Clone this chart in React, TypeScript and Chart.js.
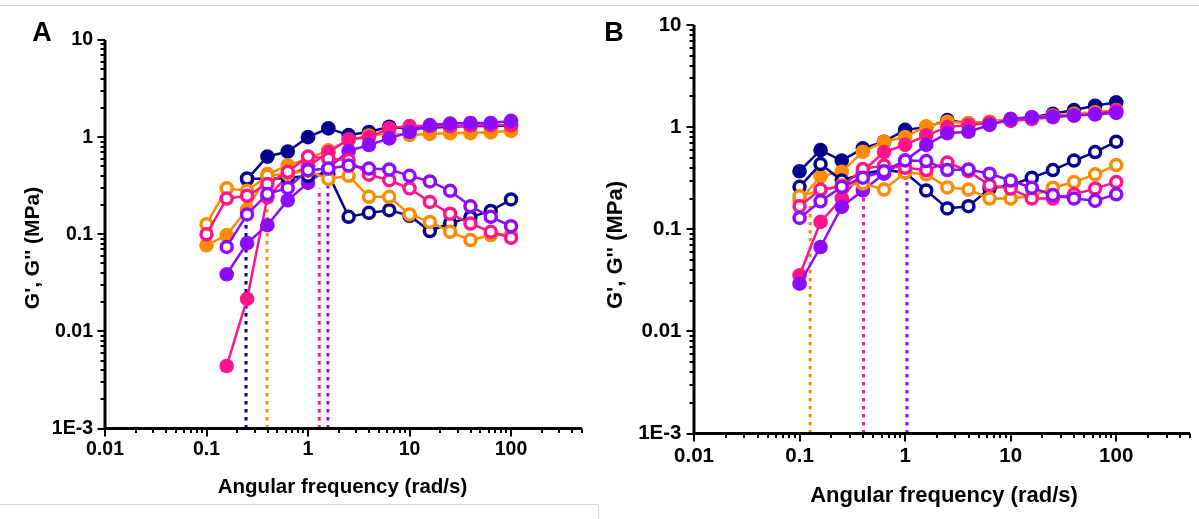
import React, { useEffect, useRef } from 'react';
import { Chart, registerables } from 'chart.js';

Chart.register(...registerables);

// ---------------- data ----------------
const FREQ = [0.1, 0.158, 0.251, 0.398, 0.631, 1, 1.585, 2.512, 3.981, 6.31, 10, 15.85, 25.12, 39.81, 63.1, 100];

// Panel A  (G' = storage, filled; G'' = loss, open)
const A_NAVY_G1 = [null, null, 0.37, 0.63, 0.71, 1.0, 1.23, 1.05, 1.13, 1.28, 1.22, 1.25, 1.28, 1.3, 1.3, 1.32];
const A_NAVY_G2 = [null, null, 0.375, 0.37, 0.38, 0.4, 0.42, 0.151, 0.166, 0.177, 0.155, 0.108, 0.13, 0.15, 0.174, 0.228];
const A_ORANGE_G1 = [0.077, 0.098, 0.18, 0.416, 0.51, 0.6, 0.73, 0.93, 1.04, 1.08, 1.05, 1.08, 1.1, 1.1, 1.12, 1.16];
const A_ORANGE_G2 = [0.127, 0.297, 0.28, 0.4, 0.42, 0.45, 0.37, 0.4, 0.243, 0.243, 0.16, 0.134, 0.106, 0.087, 0.098, 0.1];
const A_PINK_G1 = [null, 0.0044, 0.0216, 0.24, 0.4, 0.5, 0.7, 0.95, 1.0, 1.23, 1.3, 1.3, 1.3, 1.32, 1.33, 1.33];
const A_PINK_G2 = [0.1, 0.233, 0.249, 0.33, 0.44, 0.63, 0.6, 0.58, 0.41, 0.36, 0.296, 0.215, 0.163, 0.129, 0.106, 0.092];
const A_PURPLE_G1 = [null, 0.0387, 0.081, 0.124, 0.224, 0.338, 0.48, 0.72, 0.83, 0.97, 1.13, 1.33, 1.38, 1.4, 1.4, 1.47];
const A_PURPLE_G2 = [null, 0.074, 0.16, 0.26, 0.3, 0.457, 0.475, 0.51, 0.475, 0.465, 0.4, 0.35, 0.28, 0.194, 0.151, 0.121];
const A_CROSS_X = [0.245, 0.395, 1.29, 1.57];
const A_CROSS_TOP = [0.37, 0.4, 0.3, 0.45];

// Panel B
const B_NAVY_G1 = [0.37, 0.595, 0.47, 0.62, 0.72, 0.94, 1.0, 1.17, 1.09, 1.12, 1.2, 1.25, 1.35, 1.47, 1.62, 1.75];
const B_NAVY_G2 = [0.26, 0.435, 0.3, 0.35, 0.38, 0.36, 0.24, 0.16, 0.168, 0.25, 0.27, 0.32, 0.38, 0.47, 0.57, 0.72];
const B_ORANGE_G1 = [0.19, 0.33, 0.366, 0.574, 0.72, 0.8, 1.02, 1.13, 1.09, 1.13, 1.2, 1.25, 1.3, 1.35, 1.4, 1.47];
const B_ORANGE_G2 = [0.21, 0.24, 0.27, 0.28, 0.245, 0.36, 0.345, 0.257, 0.245, 0.2, 0.2, 0.21, 0.255, 0.29, 0.345, 0.425];
const B_PINK_G1 = [0.0354, 0.118, 0.2, 0.37, 0.57, 0.67, 0.83, 1.0, 1.05, 1.1, 1.15, 1.2, 1.25, 1.3, 1.35, 1.45];
const B_PINK_G2 = [0.168, 0.245, 0.26, 0.39, 0.42, 0.4, 0.38, 0.45, 0.37, 0.27, 0.25, 0.2, 0.2, 0.22, 0.25, 0.29];
const B_PURPLE_G1 = [0.0293, 0.067, 0.166, 0.24, 0.35, 0.47, 0.67, 0.87, 0.9, 1.05, 1.2, 1.25, 1.27, 1.3, 1.33, 1.38];
const B_PURPLE_G2 = [0.129, 0.188, 0.26, 0.32, 0.37, 0.47, 0.465, 0.38, 0.385, 0.35, 0.3, 0.255, 0.216, 0.2, 0.19, 0.22];
const B_CROSS_X = [0.126, 0.404, 1.04];
const B_CROSS_TOP = [0.17, 0.3, 0.45];

// axes
const X_MIN = 0.01;
const X_MAX = 500;
const Y_MIN = 0.001;
const Y_MAX = 10;
const X_TICK_VALUES = [0.01, 0.1, 1, 10, 100];
const X_TICK_LABELS = ['0.01', '0.1', '1', '10', '100'];
const Y_TICK_VALUES = [0.001, 0.01, 0.1, 1, 10];
const Y_TICK_LABELS = ['1E-3', '0.01', '0.1', '1', '10'];

const X_TITLE = 'Angular frequency (rad/s)';
const Y_TITLE = "G', G'' (MPa)";

// ---------------- styles ----------------
const NAVY = '#02028f';
const ORANGE = '#ff8c00';
const PINK = '#ff1489';
const PURPLE = '#8b0cff';
const FONT = '"Liberation Sans", Arial, Helvetica, sans-serif';

type Vals = (number | null)[];
type Series = { color: string; g1: Vals; g2: Vals };

function pts(vals: Vals) {
  const out: { x: number; y: number }[] = [];
  FREQ.forEach((x, i) => {
    const v = vals[i];
    if (v !== null && v !== undefined) out.push({ x, y: v });
  });
  return out;
}

function buildDatasets(series: Series[], crossX: number[], crossTop: number[], crossColors: string[]) {
  const ds: any[] = [];
  crossX.forEach((x, i) => {
    ds.push({
      data: [{ x, y: Y_MIN }, { x, y: crossTop[i] }],
      borderColor: crossColors[i],
      borderWidth: 3,
      borderDash: [3.5, 4.5],
      pointRadius: 0,
      fill: false,
      order: 100,
    });
  });
  series.forEach((s, i) => {
    ds.push({
      data: pts(s.g1),
      borderColor: s.color,
      backgroundColor: s.color,
      borderWidth: 2.5,
      pointRadius: 7.3,
      pointHoverRadius: 7.3,
      pointBackgroundColor: s.color,
      pointBorderColor: s.color,
      pointBorderWidth: 0,
      fill: false,
      order: 50 - i,
    });
    ds.push({
      data: pts(s.g2),
      borderColor: s.color,
      backgroundColor: '#ffffff',
      borderWidth: 2.5,
      pointRadius: 5.5,
      pointHoverRadius: 5.5,
      pointBackgroundColor: '#ffffff',
      pointBorderColor: s.color,
      pointBorderWidth: 3.5,
      fill: false,
      order: 40 - i,
    });
  });
  return ds;
}

function makeAxisPlugin(fontSize: number, xLabelOffset: number, yLabelGap: number) {
  return {
    id: 'customAxes',
    afterDraw(chart: any) {
      const { ctx, chartArea: a, scales } = chart;
      const xs = scales.x;
      const ys = scales.y;
      ctx.save();
      ctx.strokeStyle = '#000';
      ctx.fillStyle = '#000';
      // axis lines
      ctx.lineWidth = 3;
      ctx.beginPath();
      ctx.moveTo(a.left, a.top);
      ctx.lineTo(a.left, a.bottom + 1.5);
      ctx.moveTo(a.left - 1.5, a.bottom);
      ctx.lineTo(a.right, a.bottom);
      ctx.stroke();
      // tick marks
      ctx.lineWidth = 2;
      ctx.beginPath();
      for (let e = Math.floor(Math.log10(Y_MIN)); e <= Math.ceil(Math.log10(Y_MAX)); e++) {
        for (let m = 1; m <= 9; m++) {
          const v = m * Math.pow(10, e);
          if (v < Y_MIN * 0.9999 || v > Y_MAX * 1.0001) continue;
          const p = Math.round(ys.getPixelForValue(v));
          const len = m === 1 ? 7.5 : 4.5;
          ctx.moveTo(a.left, p);
          ctx.lineTo(a.left - len, p);
        }
      }
      for (let e = Math.floor(Math.log10(X_MIN)); e <= Math.ceil(Math.log10(X_MAX)); e++) {
        for (let m = 1; m <= 9; m++) {
          const v = m * Math.pow(10, e);
          if (v < X_MIN * 0.9999 || v > X_MAX * 1.0001) continue;
          const p = Math.round(xs.getPixelForValue(v));
          const len = m === 1 ? 8 : 4.5;
          ctx.moveTo(p, a.bottom);
          ctx.lineTo(p, a.bottom + len);
        }
      }
      ctx.stroke();
      // tick labels
      ctx.font = `bold ${fontSize}px ${FONT}`;
      ctx.textBaseline = 'middle';
      ctx.textAlign = 'center';
      X_TICK_VALUES.forEach((v, i) => {
        ctx.fillText(X_TICK_LABELS[i], xs.getPixelForValue(v), a.bottom + xLabelOffset);
      });
      ctx.textAlign = 'right';
      Y_TICK_VALUES.forEach((v, i) => {
        ctx.fillText(Y_TICK_LABELS[i], a.left - yLabelGap, ys.getPixelForValue(v));
      });
      ctx.restore();
    },
  };
}

type PanelProps = {
  left: number;
  width: number;
  height: number;
  pad: { left: number; right: number; top: number; bottom: number };
  datasets: any[];
  fontSize: number;
  xLabelOffset: number;
  yLabelGap: number;
};

function Panel(props: PanelProps) {
  const ref = useRef<HTMLCanvasElement>(null);
  useEffect(() => {
    if (!ref.current) return;
    const chart = new Chart(ref.current, {
      type: 'line',
      data: { datasets: props.datasets },
      options: {
        animation: false,
        responsive: false,
        maintainAspectRatio: false,
        events: [],
        layout: { padding: props.pad },
        scales: {
          x: { type: 'logarithmic', min: X_MIN, max: X_MAX, display: false },
          y: { type: 'logarithmic', min: Y_MIN, max: Y_MAX, display: false },
        },
        plugins: { legend: { display: false }, tooltip: { enabled: false } },
      } as any,
      plugins: [makeAxisPlugin(props.fontSize, props.xLabelOffset, props.yLabelGap)],
    });
    return () => chart.destroy();
  }, []);
  return (
    <canvas
      ref={ref}
      width={props.width}
      height={props.height}
      style={{ position: 'absolute', left: props.left, top: 0, width: props.width, height: props.height }}
    />
  );
}

function Label(p: { text: string; cx: number; cy: number; size: number; rotate?: boolean }) {
  return (
    <div
      style={{
        position: 'absolute',
        left: p.cx,
        top: p.cy,
        transform: `translate(-50%, -50%)${p.rotate ? ' rotate(-90deg)' : ''}`,
        fontFamily: FONT,
        fontWeight: 'bold',
        fontSize: p.size,
        lineHeight: 1,
        whiteSpace: 'nowrap',
        color: '#000',
      }}
    >
      {p.text}
    </div>
  );
}

export default function App() {
  const seriesA: Series[] = [
    { color: NAVY, g1: A_NAVY_G1, g2: A_NAVY_G2 },
    { color: ORANGE, g1: A_ORANGE_G1, g2: A_ORANGE_G2 },
    { color: PINK, g1: A_PINK_G1, g2: A_PINK_G2 },
    { color: PURPLE, g1: A_PURPLE_G1, g2: A_PURPLE_G2 },
  ];
  const seriesB: Series[] = [
    { color: NAVY, g1: B_NAVY_G1, g2: B_NAVY_G2 },
    { color: ORANGE, g1: B_ORANGE_G1, g2: B_ORANGE_G2 },
    { color: PINK, g1: B_PINK_G1, g2: B_PINK_G2 },
    { color: PURPLE, g1: B_PURPLE_G1, g2: B_PURPLE_G2 },
  ];
  const dsA = buildDatasets(seriesA, A_CROSS_X, A_CROSS_TOP, [NAVY, ORANGE, PINK, PURPLE]);
  const dsB = buildDatasets(seriesB, B_CROSS_X, B_CROSS_TOP, [ORANGE, PINK, PURPLE]);

  return (
    <div style={{ position: 'fixed', left: 0, top: 0, width: 1199, height: 519, background: '#fff', overflow: 'hidden' }}>
      {/* frame lines */}
      <div style={{ position: 'absolute', left: 0, top: 5, width: 1199, height: 1, background: '#d6d6d6' }} />
      <div style={{ position: 'absolute', left: 0, top: 504, width: 599, height: 1, background: '#d6d6d6' }} />
      <div style={{ position: 'absolute', left: 598, top: 504, width: 1, height: 15, background: '#d6d6d6' }} />

      <Panel
        left={0}
        width={600}
        height={519}
        pad={{ left: 105, right: 18, top: 40, bottom: 90.5 }}
        datasets={dsA}
        fontSize={19.5}
        xLabelOffset={21.5}
        yLabelGap={12}
      />
      <Panel
        left={600}
        width={599}
        height={519}
        pad={{ left: 94, right: 6, top: 25, bottom: 85.5 }}
        datasets={dsB}
        fontSize={20.5}
        xLabelOffset={23}
        yLabelGap={12.5}
      />

      <Label text="A" cx={42} cy={32} size={27} />
      <Label text={Y_TITLE} cx={31} cy={248} size={21} rotate />
      <Label text={X_TITLE} cx={342.5} cy={486} size={20.5} />

      <Label text="B" cx={614} cy={32} size={27} />
      <Label text={Y_TITLE} cx={615} cy={245} size={22} rotate />
      <Label text={X_TITLE} cx={944} cy={495} size={22} />
    </div>
  );
}
